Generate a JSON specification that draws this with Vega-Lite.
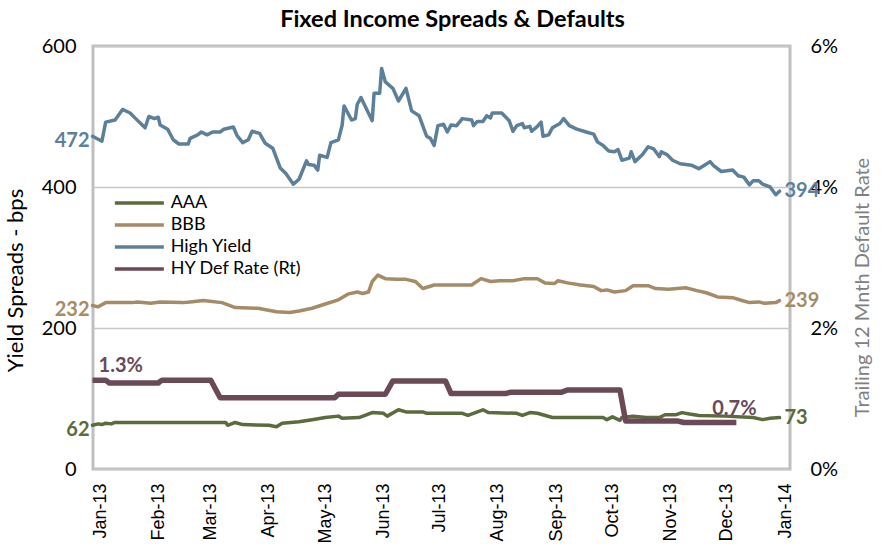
{
  "$schema": "https://vega.github.io/schema/vega-lite/v6.json",
  "width": 697,
  "height": 423,
  "autosize": {"type": "none"},
  "padding": {"left": 93, "top": 46, "right": 98, "bottom": 81},
  "background": "white",
  "config": {"font": "Lato", "view": {"stroke": "#bfbfbf", "strokeWidth": 3}},
  "title": {"text": "Fixed Income Spreads & Defaults", "fontSize": 23.5, "fontWeight": "bold", "font": "Lato", "color": "black", "frame": "group", "offset": 5, "dx": 11},
  "datasets": {
    "spreads": [
      {"d":"2012-12-28","s":"High Yield","v":472},{"d":"2013-01-02","s":"High Yield","v":465},{"d":"2013-01-04","s":"High Yield","v":492},{"d":"2013-01-09","s":"High Yield","v":495},{"d":"2013-01-13","s":"High Yield","v":510},{"d":"2013-01-17","s":"High Yield","v":505},{"d":"2013-01-20","s":"High Yield","v":497},{"d":"2013-01-25","s":"High Yield","v":484},{"d":"2013-01-27","s":"High Yield","v":500},{"d":"2013-01-30","s":"High Yield","v":497},{"d":"2013-02-01","s":"High Yield","v":499},{"d":"2013-02-02","s":"High Yield","v":488},{"d":"2013-02-06","s":"High Yield","v":482},{"d":"2013-02-09","s":"High Yield","v":467},{"d":"2013-02-12","s":"High Yield","v":461},{"d":"2013-02-17","s":"High Yield","v":461},{"d":"2013-02-18","s":"High Yield","v":469},{"d":"2013-02-22","s":"High Yield","v":474},{"d":"2013-02-24","s":"High Yield","v":478},{"d":"2013-02-27","s":"High Yield","v":474},{"d":"2013-03-02","s":"High Yield","v":478},{"d":"2013-03-06","s":"High Yield","v":478},{"d":"2013-03-08","s":"High Yield","v":482},{"d":"2013-03-13","s":"High Yield","v":485},{"d":"2013-03-15","s":"High Yield","v":473},{"d":"2013-03-18","s":"High Yield","v":463},{"d":"2013-03-21","s":"High Yield","v":467},{"d":"2013-03-23","s":"High Yield","v":479},{"d":"2013-03-27","s":"High Yield","v":476},{"d":"2013-03-30","s":"High Yield","v":462},{"d":"2013-04-03","s":"High Yield","v":455},{"d":"2013-04-07","s":"High Yield","v":427},{"d":"2013-04-10","s":"High Yield","v":419},{"d":"2013-04-14","s":"High Yield","v":404},{"d":"2013-04-17","s":"High Yield","v":411},{"d":"2013-04-21","s":"High Yield","v":437},{"d":"2013-04-22","s":"High Yield","v":432},{"d":"2013-04-25","s":"High Yield","v":431},{"d":"2013-04-27","s":"High Yield","v":424},{"d":"2013-04-28","s":"High Yield","v":445},{"d":"2013-05-02","s":"High Yield","v":442},{"d":"2013-05-04","s":"High Yield","v":463},{"d":"2013-05-08","s":"High Yield","v":467},{"d":"2013-05-10","s":"High Yield","v":488},{"d":"2013-05-11","s":"High Yield","v":515},{"d":"2013-05-15","s":"High Yield","v":495},{"d":"2013-05-17","s":"High Yield","v":497},{"d":"2013-05-18","s":"High Yield","v":517},{"d":"2013-05-20","s":"High Yield","v":527},{"d":"2013-05-24","s":"High Yield","v":505},{"d":"2013-05-26","s":"High Yield","v":494},{"d":"2013-05-27","s":"High Yield","v":533},{"d":"2013-05-30","s":"High Yield","v":533},{"d":"2013-05-31","s":"High Yield","v":568},{"d":"2013-06-02","s":"High Yield","v":549},{"d":"2013-06-06","s":"High Yield","v":540},{"d":"2013-06-09","s":"High Yield","v":522},{"d":"2013-06-13","s":"High Yield","v":540},{"d":"2013-06-16","s":"High Yield","v":508},{"d":"2013-06-20","s":"High Yield","v":501},{"d":"2013-06-24","s":"High Yield","v":472},{"d":"2013-06-26","s":"High Yield","v":469},{"d":"2013-06-28","s":"High Yield","v":459},{"d":"2013-06-30","s":"High Yield","v":487},{"d":"2013-07-03","s":"High Yield","v":489},{"d":"2013-07-05","s":"High Yield","v":478},{"d":"2013-07-07","s":"High Yield","v":488},{"d":"2013-07-10","s":"High Yield","v":487},{"d":"2013-07-13","s":"High Yield","v":497},{"d":"2013-07-18","s":"High Yield","v":495},{"d":"2013-07-19","s":"High Yield","v":487},{"d":"2013-07-21","s":"High Yield","v":493},{"d":"2013-07-24","s":"High Yield","v":493},{"d":"2013-07-26","s":"High Yield","v":501},{"d":"2013-07-28","s":"High Yield","v":498},{"d":"2013-07-29","s":"High Yield","v":505},{"d":"2013-08-03","s":"High Yield","v":505},{"d":"2013-08-07","s":"High Yield","v":494},{"d":"2013-08-09","s":"High Yield","v":479},{"d":"2013-08-11","s":"High Yield","v":487},{"d":"2013-08-14","s":"High Yield","v":490},{"d":"2013-08-15","s":"High Yield","v":484},{"d":"2013-08-18","s":"High Yield","v":486},{"d":"2013-08-19","s":"High Yield","v":479},{"d":"2013-08-22","s":"High Yield","v":486},{"d":"2013-08-24","s":"High Yield","v":492},{"d":"2013-08-25","s":"High Yield","v":472},{"d":"2013-08-28","s":"High Yield","v":474},{"d":"2013-08-30","s":"High Yield","v":484},{"d":"2013-09-03","s":"High Yield","v":490},{"d":"2013-09-05","s":"High Yield","v":497},{"d":"2013-09-08","s":"High Yield","v":487},{"d":"2013-09-12","s":"High Yield","v":482},{"d":"2013-09-17","s":"High Yield","v":478},{"d":"2013-09-21","s":"High Yield","v":475},{"d":"2013-09-23","s":"High Yield","v":464},{"d":"2013-09-26","s":"High Yield","v":459},{"d":"2013-09-29","s":"High Yield","v":451},{"d":"2013-10-02","s":"High Yield","v":450},{"d":"2013-10-04","s":"High Yield","v":453},{"d":"2013-10-06","s":"High Yield","v":438},{"d":"2013-10-10","s":"High Yield","v":441},{"d":"2013-10-11","s":"High Yield","v":450},{"d":"2013-10-13","s":"High Yield","v":436},{"d":"2013-10-17","s":"High Yield","v":446},{"d":"2013-10-20","s":"High Yield","v":457},{"d":"2013-10-23","s":"High Yield","v":454},{"d":"2013-10-26","s":"High Yield","v":443},{"d":"2013-10-27","s":"High Yield","v":450},{"d":"2013-10-30","s":"High Yield","v":446},{"d":"2013-11-02","s":"High Yield","v":438},{"d":"2013-11-06","s":"High Yield","v":433},{"d":"2013-11-12","s":"High Yield","v":431},{"d":"2013-11-16","s":"High Yield","v":426},{"d":"2013-11-19","s":"High Yield","v":431},{"d":"2013-11-22","s":"High Yield","v":436},{"d":"2013-11-24","s":"High Yield","v":430},{"d":"2013-11-28","s":"High Yield","v":422},{"d":"2013-12-04","s":"High Yield","v":424},{"d":"2013-12-07","s":"High Yield","v":416},{"d":"2013-12-10","s":"High Yield","v":414},{"d":"2013-12-13","s":"High Yield","v":403},{"d":"2013-12-15","s":"High Yield","v":409},{"d":"2013-12-18","s":"High Yield","v":409},{"d":"2013-12-20","s":"High Yield","v":404},{"d":"2013-12-24","s":"High Yield","v":400},{"d":"2013-12-27","s":"High Yield","v":389},{"d":"2013-12-29","s":"High Yield","v":394},
      {"d":"2012-12-28","s":"BBB","v":232},{"d":"2012-12-31","s":"BBB","v":230},{"d":"2013-01-04","s":"BBB","v":236},{"d":"2013-01-18","s":"BBB","v":236},{"d":"2013-01-21","s":"BBB","v":237},{"d":"2013-01-28","s":"BBB","v":235},{"d":"2013-02-02","s":"BBB","v":237},{"d":"2013-02-14","s":"BBB","v":236},{"d":"2013-02-18","s":"BBB","v":237},{"d":"2013-02-25","s":"BBB","v":239},{"d":"2013-03-07","s":"BBB","v":236},{"d":"2013-03-14","s":"BBB","v":229},{"d":"2013-03-26","s":"BBB","v":228},{"d":"2013-04-05","s":"BBB","v":223},{"d":"2013-04-12","s":"BBB","v":222},{"d":"2013-04-17","s":"BBB","v":224},{"d":"2013-04-24","s":"BBB","v":228},{"d":"2013-05-01","s":"BBB","v":234},{"d":"2013-05-08","s":"BBB","v":240},{"d":"2013-05-13","s":"BBB","v":248},{"d":"2013-05-18","s":"BBB","v":251},{"d":"2013-05-21","s":"BBB","v":249},{"d":"2013-05-24","s":"BBB","v":251},{"d":"2013-05-26","s":"BBB","v":266},{"d":"2013-05-29","s":"BBB","v":275},{"d":"2013-06-02","s":"BBB","v":270},{"d":"2013-06-08","s":"BBB","v":269},{"d":"2013-06-13","s":"BBB","v":269},{"d":"2013-06-18","s":"BBB","v":266},{"d":"2013-06-22","s":"BBB","v":256},{"d":"2013-06-28","s":"BBB","v":261},{"d":"2013-07-04","s":"BBB","v":261},{"d":"2013-07-18","s":"BBB","v":261},{"d":"2013-07-23","s":"BBB","v":270},{"d":"2013-07-28","s":"BBB","v":266},{"d":"2013-08-02","s":"BBB","v":267},{"d":"2013-08-09","s":"BBB","v":267},{"d":"2013-08-15","s":"BBB","v":270},{"d":"2013-08-22","s":"BBB","v":270},{"d":"2013-08-26","s":"BBB","v":264},{"d":"2013-08-31","s":"BBB","v":263},{"d":"2013-09-02","s":"BBB","v":267},{"d":"2013-09-07","s":"BBB","v":264},{"d":"2013-09-14","s":"BBB","v":261},{"d":"2013-09-21","s":"BBB","v":259},{"d":"2013-09-25","s":"BBB","v":253},{"d":"2013-09-28","s":"BBB","v":254},{"d":"2013-10-02","s":"BBB","v":251},{"d":"2013-10-08","s":"BBB","v":253},{"d":"2013-10-12","s":"BBB","v":260},{"d":"2013-10-20","s":"BBB","v":260},{"d":"2013-10-24","s":"BBB","v":256},{"d":"2013-10-31","s":"BBB","v":255},{"d":"2013-11-09","s":"BBB","v":257},{"d":"2013-11-15","s":"BBB","v":253},{"d":"2013-11-20","s":"BBB","v":250},{"d":"2013-11-26","s":"BBB","v":244},{"d":"2013-12-04","s":"BBB","v":243},{"d":"2013-12-09","s":"BBB","v":239},{"d":"2013-12-13","s":"BBB","v":236},{"d":"2013-12-18","s":"BBB","v":237},{"d":"2013-12-21","s":"BBB","v":235},{"d":"2013-12-27","s":"BBB","v":236},{"d":"2013-12-29","s":"BBB","v":239},
      {"d":"2012-12-28","s":"AAA","v":62},{"d":"2012-12-31","s":"AAA","v":64},{"d":"2013-01-02","s":"AAA","v":63},{"d":"2013-01-04","s":"AAA","v":65},{"d":"2013-01-07","s":"AAA","v":64},{"d":"2013-01-09","s":"AAA","v":66},{"d":"2013-01-13","s":"AAA","v":66},{"d":"2013-03-09","s":"AAA","v":66},{"d":"2013-03-10","s":"AAA","v":62},{"d":"2013-03-14","s":"AAA","v":66},{"d":"2013-03-18","s":"AAA","v":63},{"d":"2013-04-01","s":"AAA","v":62},{"d":"2013-04-05","s":"AAA","v":60},{"d":"2013-04-08","s":"AAA","v":65},{"d":"2013-04-17","s":"AAA","v":67},{"d":"2013-04-24","s":"AAA","v":70},{"d":"2013-05-01","s":"AAA","v":73},{"d":"2013-05-08","s":"AAA","v":75},{"d":"2013-05-10","s":"AAA","v":72},{"d":"2013-05-19","s":"AAA","v":73},{"d":"2013-05-26","s":"AAA","v":80},{"d":"2013-06-01","s":"AAA","v":79},{"d":"2013-06-03","s":"AAA","v":75},{"d":"2013-06-09","s":"AAA","v":84},{"d":"2013-06-13","s":"AAA","v":81},{"d":"2013-06-22","s":"AAA","v":81},{"d":"2013-06-24","s":"AAA","v":79},{"d":"2013-07-13","s":"AAA","v":79},{"d":"2013-07-16","s":"AAA","v":76},{"d":"2013-07-24","s":"AAA","v":84},{"d":"2013-07-27","s":"AAA","v":80},{"d":"2013-08-11","s":"AAA","v":79},{"d":"2013-08-14","s":"AAA","v":76},{"d":"2013-08-18","s":"AAA","v":80},{"d":"2013-08-22","s":"AAA","v":79},{"d":"2013-08-30","s":"AAA","v":73},{"d":"2013-09-26","s":"AAA","v":73},{"d":"2013-09-28","s":"AAA","v":70},{"d":"2013-10-01","s":"AAA","v":74},{"d":"2013-10-05","s":"AAA","v":69},{"d":"2013-10-06","s":"AAA","v":73},{"d":"2013-10-12","s":"AAA","v":75},{"d":"2013-10-19","s":"AAA","v":73},{"d":"2013-10-26","s":"AAA","v":73},{"d":"2013-10-29","s":"AAA","v":77},{"d":"2013-11-04","s":"AAA","v":77},{"d":"2013-11-07","s":"AAA","v":80},{"d":"2013-11-11","s":"AAA","v":78},{"d":"2013-11-16","s":"AAA","v":76},{"d":"2013-11-30","s":"AAA","v":75},{"d":"2013-12-15","s":"AAA","v":73},{"d":"2013-12-20","s":"AAA","v":70},{"d":"2013-12-24","s":"AAA","v":72},{"d":"2013-12-29","s":"AAA","v":73}
    ],
    "def": [
      {"d":"2012-12-28","r":0.0126},{"d":"2013-01-04","r":0.0126},{"d":"2013-01-06","r":0.0122},{"d":"2013-02-01","r":0.0122},{"d":"2013-02-03","r":0.0126},{"d":"2013-03-01","r":0.0126},{"d":"2013-03-06","r":0.0101},{"d":"2013-05-06","r":0.0101},{"d":"2013-05-08","r":0.0106},{"d":"2013-06-02","r":0.0106},{"d":"2013-06-06","r":0.0125},{"d":"2013-07-04","r":0.0125},{"d":"2013-07-07","r":0.0107},{"d":"2013-08-05","r":0.0107},{"d":"2013-08-08","r":0.0109},{"d":"2013-09-04","r":0.0109},{"d":"2013-09-07","r":0.0112},{"d":"2013-10-05","r":0.0112},{"d":"2013-10-08","r":0.0068},{"d":"2013-11-05","r":0.0068},{"d":"2013-11-08","r":0.0066},{"d":"2013-12-06","r":0.0066}
    ]
  },
  "encoding": {
    "x": {
      "field": "d", "type": "temporal",
      "scale": {"domain": [{"year": 2012, "month": 12, "date": 28, "hours": 6}, {"year": 2014, "month": 1, "date": 3, "hours": 14}]},
      "axis": {"title": null, "format": "%b-%y", "tickCount": {"interval": "month", "step": 1}, "labelAngle": -90, "labelFont": "Liberation Sans", "labelFontSize": 18, "labelColor": "black", "labelOverlap": false, "labelFlush": false, "labelBound": false, "ticks": false, "domain": false, "grid": false, "labelPadding": 14}
    }
  },
  "layer": [
    {
      "data": {"name": "spreads", "format": {"parse": {"d": "date:'%Y-%m-%d'"}}},
      "encoding": {
        "y": {
          "field": "v", "type": "quantitative",
          "scale": {"domain": [0, 600], "nice": false, "zero": false},
          "axis": {"orient": "left", "values": [0, 200, 400, 600], "title": "Yield Spreads - bps", "titleFontSize": 22, "titleFontWeight": "normal", "titleColor": "black", "titleAngle": 270, "titleAlign": "center", "titleBaseline": "middle", "titleX": -78, "titleY": 234, "labelFontSize": 20, "labelColor": "black", "ticks": false, "domain": false, "grid": true, "gridColor": "#c8c8c8", "gridWidth": 1.5, "labelPadding": 17}
        }
      },
      "layer": [
        {
          "mark": {"type": "line", "strokeJoin": "round", "strokeCap": "round"},
          "encoding": {
            "color": {"field": "s", "type": "nominal",
              "scale": {"domain": ["AAA", "BBB", "High Yield", "HY Def Rate (Rt)"], "range": ["#5a6b3c", "#a58b66", "#5c8099", "#6b4a58"]},
              "legend": {"orient": "none", "legendX": 36.35, "legendY": 147, "title": null, "symbolType": "M-3,0H3", "symbolSize": 267, "labelFontSize": 18, "labelColor": "black", "labelOffset": 21.3, "rowPadding": 3, "padding": 0}},
            "strokeWidth": {"field": "s", "type": "nominal",
              "scale": {"domain": ["AAA", "BBB", "High Yield", "HY Def Rate (Rt)"], "range": [3.5, 3.5, 4.5, 5.5]},
              "legend": {"orient": "none", "legendX": 36.35, "legendY": 147, "title": null, "symbolType": "M-3,0H3", "symbolSize": 267, "labelFontSize": 18, "labelColor": "black", "labelOffset": 21.3, "rowPadding": 3, "padding": 0}}
          }
        },
        {
          "transform": [{"joinaggregate": [{"op": "min", "field": "d", "as": "d0"}], "groupby": ["s"]}, {"filter": "+datum.d === +datum.d0"}],
          "mark": {"type": "text", "align": "right", "dx": -3, "dy": 5, "fontSize": 20, "fontWeight": "bold"},
          "encoding": {"text": {"field": "v", "type": "quantitative", "format": ".0f"}, "color": {"field": "s", "type": "nominal", "legend": null}}
        },
        {
          "transform": [{"joinaggregate": [{"op": "max", "field": "d", "as": "d1"}], "groupby": ["s"]}, {"filter": "+datum.d === +datum.d1"}],
          "mark": {"type": "text", "align": "left", "dx": 5, "dy": 0, "fontSize": 20, "fontWeight": "bold"},
          "encoding": {"text": {"field": "v", "type": "quantitative", "format": ".0f"}, "color": {"field": "s", "type": "nominal", "legend": null}}
        }
      ]
    },
    {
      "data": {"name": "def", "format": {"parse": {"d": "date:'%Y-%m-%d'"}}},
      "encoding": {
        "y": {
          "field": "r", "type": "quantitative",
          "scale": {"domain": [0, 0.06], "nice": false, "zero": false},
          "axis": {"orient": "right", "values": [0, 0.02, 0.04, 0.06], "format": ".0%", "title": "Trailing 12 Mnth Default Rate", "titleFontSize": 20, "titleFontWeight": "normal", "titleColor": "#808080", "titleAngle": 270, "titleAlign": "center", "titleBaseline": "middle", "titleX": 72, "titleY": 241, "labelFontSize": 20, "labelColor": "black", "ticks": false, "domain": false, "grid": false, "labelPadding": 20}
        }
      },
      "layer": [
        {"mark": {"type": "line", "color": "#6b4a58", "strokeWidth": 5.5, "strokeJoin": "round"}},
        {
          "transform": [{"joinaggregate": [{"op": "min", "field": "d", "as": "d0"}]}, {"filter": "+datum.d === +datum.d0"}],
          "mark": {"type": "text", "align": "left", "dx": 6, "dy": -14, "fontSize": 20, "fontWeight": "bold", "color": "#6b4a58"},
          "encoding": {"text": {"field": "r", "type": "quantitative", "format": ".1%"}}
        },
        {
          "transform": [{"joinaggregate": [{"op": "max", "field": "d", "as": "d1"}]}, {"filter": "+datum.d === +datum.d1"}],
          "mark": {"type": "text", "align": "center", "dx": -2, "dy": -13, "fontSize": 20, "fontWeight": "bold", "color": "#6b4a58"},
          "encoding": {"text": {"field": "r", "type": "quantitative", "format": ".1%"}}
        }
      ]
    }
  ],
  "resolve": {"scale": {"y": "independent"}}
}
